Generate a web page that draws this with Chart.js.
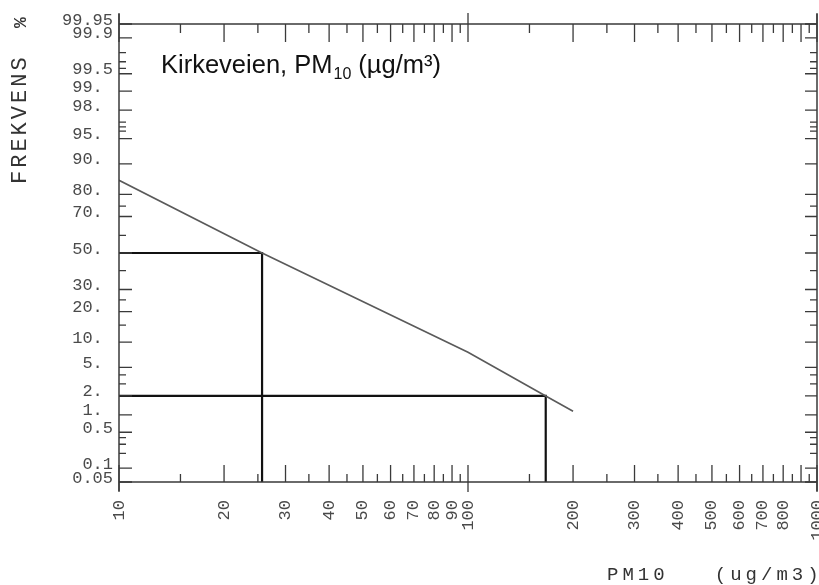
<!DOCTYPE html>
<html>
<head>
<meta charset="utf-8">
<script src="https://cdn.jsdelivr.net/npm/chart.js@4/dist/chart.umd.min.js"></script>
<style>
  html, body { margin: 0; padding: 0; background: #fff; }
  #wrap { width: 819px; height: 585px; position: relative; }
</style>
</head>
<body>
<div id="wrap"><canvas id="freqChart"></canvas></div>
<script>
// Cumulative frequency of PM10 concentrations, probability paper
const pm10Values = [10, 25.7, 100, 167, 200];
const freqPercent = [85.2, 50, 7.7, 2, 1.15];

// read-off levels (frequency % -> concentration)
const refLevels = [50, 2];
const refConc = [25.7, 167];

// y axis (probability scale)
const yMin = 0.05, yMax = 99.95;
const yTickValues = [99.95, 99.9, 99.5, 99, 98, 95, 90, 80, 70, 50, 30, 20, 10, 5, 2, 1, 0.5, 0.1, 0.05];
const yTickLabels = ['99.95', '99.9', '99.5', '99. ', '98. ', '95. ', '90. ', '80. ', '70. ', '50. ', '30. ', '20. ', '10. ', '5. ', '2. ', '1. ', '0.5', '0.1', '0.05'];
const yMinorTicks = [99.8, 99.7, 99.6, 97, 96.5, 96, 75, 60, 40, 25, 15, 4, 3, 0.4, 0.3, 0.2];

// x axis (log scale)
const xMin = 10, xMax = 1000;
const xTickLabels = [10, 20, 30, 40, 50, 60, 70, 80, 90, 100, 200, 300, 400, 500, 600, 700, 800, 1000];
const xMajorTicks = [20, 30, 40, 50, 60, 70, 80, 90, 200, 300, 400, 500, 600, 700, 800, 900];
const xMinorTicks = [15, 25, 35, 45, 55, 65, 75, 85, 95, 150, 250, 350, 450, 550, 650, 750, 850, 950];
const xCrossTicks = [10, 100, 1000];

// inverse of the standard normal CDF (Acklam)
function probit(p) {
    const a = [-3.969683028665376e+01, 2.209460984245205e+02, -2.759285104469687e+02, 1.383577518672690e+02, -3.066479806614716e+01, 2.506628277459239e+00];
    const b = [-5.447609879822406e+01, 1.615858368580409e+02, -1.556989798598866e+02, 6.680131188771972e+01, -1.328068155288572e+01];
    const c = [-7.784894002430293e-03, -3.223964580411365e-01, -2.400758277161838e+00, -2.549732539343734e+00, 4.374664141464968e+00, 2.938163982698783e+00];
    const d = [7.784695709041462e-03, 3.224671290700398e-01, 2.445134137142996e+00, 3.754408661907416e+00];
    const pl = 0.02425;
    let q, r;
    if (p < pl) {
        q = Math.sqrt(-2 * Math.log(p));
        return (((((c[0]*q+c[1])*q+c[2])*q+c[3])*q+c[4])*q+c[5]) / ((((d[0]*q+d[1])*q+d[2])*q+d[3])*q+1);
    }
    if (p <= 1 - pl) {
        q = p - 0.5; r = q * q;
        return (((((a[0]*r+a[1])*r+a[2])*r+a[3])*r+a[4])*r+a[5])*q / (((((b[0]*r+b[1])*r+b[2])*r+b[3])*r+b[4])*r+1);
    }
    q = Math.sqrt(-2 * Math.log(1 - p));
    return -(((((c[0]*q+c[1])*q+c[2])*q+c[3])*q+c[4])*q+c[5]) / ((((d[0]*q+d[1])*q+d[2])*q+d[3])*q+1);
}

function normCdf(z) {
    // Abramowitz-Stegun 26.2.17
    const t = 1 / (1 + 0.2316419 * Math.abs(z));
    const y = 0.3989423 * Math.exp(-z * z / 2) * t * (0.3193815 + t * (-0.3565638 + t * (1.781478 + t * (-1.821256 + t * 1.330274))));
    return z > 0 ? 1 - y : y;
}

// normal probability axis, values in percent
class ProbabilityScale extends Chart.Scale {
    determineDataLimits() {
        this.min = this.options.min;
        this.max = this.options.max;
    }
    buildTicks() {
        return yTickValues.map(v => ({ value: v }));
    }
    getLabelForValue(value) {
        return String(value);
    }
    getPixelForValue(value) {
        const z0 = probit(this.min / 100), z1 = probit(this.max / 100);
        return this.getPixelForDecimal((probit(value / 100) - z0) / (z1 - z0));
    }
    getValueForPixel(pixel) {
        const z0 = probit(this.min / 100), z1 = probit(this.max / 100);
        return normCdf(z0 + this.getDecimalForPixel(pixel) * (z1 - z0)) * 100;
    }
}
ProbabilityScale.id = 'probability';
ProbabilityScale.defaults = {};
Chart.register(ProbabilityScale);

const monoFont = '"Liberation Mono", "DejaVu Sans Mono", monospace';
const inkColor = '#3a3a3a';

// frame, inner ticks, tick labels and titles
const paperAxes = {
    id: 'paperAxes',
    afterDatasetsDraw(chart) {
        const { ctx, chartArea: area, scales: { x, y } } = chart;
        const { left, right, top, bottom } = area;
        ctx.save();
        ctx.strokeStyle = inkColor;
        ctx.lineWidth = 1.5;

        // frame
        ctx.beginPath();
        ctx.moveTo(left, top); ctx.lineTo(right, top);
        ctx.moveTo(left, bottom); ctx.lineTo(right, bottom);
        ctx.moveTo(left, top - 10); ctx.lineTo(left, bottom + 9);
        ctx.moveTo(right, top - 10); ctx.lineTo(right, bottom + 9);
        ctx.stroke();

        // x ticks (bottom pointing up, top pointing down)
        ctx.lineWidth = 1.3;
        ctx.beginPath();
        xMajorTicks.forEach(v => {
            const px = x.getPixelForValue(v);
            ctx.moveTo(px, bottom); ctx.lineTo(px, bottom - 17);
            ctx.moveTo(px, top); ctx.lineTo(px, top + 18);
        });
        xMinorTicks.forEach(v => {
            const px = x.getPixelForValue(v);
            ctx.moveTo(px, bottom); ctx.lineTo(px, bottom - 8);
            ctx.moveTo(px, top); ctx.lineTo(px, top + 9);
        });
        xCrossTicks.forEach(v => {
            const px = x.getPixelForValue(v);
            ctx.moveTo(px, bottom - 17); ctx.lineTo(px, bottom + 10);
            ctx.moveTo(px, top - 11); ctx.lineTo(px, top + 18);
        });
        // y ticks (left pointing right, right pointing left)
        yTickValues.forEach(v => {
            const py = y.getPixelForValue(v);
            ctx.moveTo(left, py); ctx.lineTo(left + 13, py);
            ctx.moveTo(right, py); ctx.lineTo(right - 12, py);
        });
        yMinorTicks.forEach(v => {
            const py = y.getPixelForValue(v);
            ctx.moveTo(left, py); ctx.lineTo(left + 7, py);
            ctx.moveTo(right, py); ctx.lineTo(right - 7, py);
        });
        ctx.stroke();

        // tick labels
        ctx.fillStyle = '#4a4a4a';
        ctx.font = '17px ' + monoFont;
        ctx.textAlign = 'right';
        ctx.textBaseline = 'middle';
        yTickValues.forEach((v, i) => {
            ctx.fillText(yTickLabels[i], left - 6, y.getPixelForValue(v) - 4);
        });
        xTickLabels.forEach(v => {
            ctx.save();
            ctx.translate(x.getPixelForValue(v), bottom + 18);
            ctx.rotate(-Math.PI / 2);
            ctx.fillText(String(v), 0, 0);
            ctx.restore();
        });

        // axis titles
        ctx.fillStyle = '#333';
        ctx.textAlign = 'left';
        ctx.textBaseline = 'alphabetic';
        ctx.font = '22px ' + monoFont;
        ctx.letterSpacing = '3px';
        ctx.save();
        ctx.translate(26, 184);
        ctx.rotate(-Math.PI / 2);
        ctx.fillText('FREKVENS', 0, 0);
        ctx.restore();
        ctx.letterSpacing = '0px';
        ctx.font = 'bold 18px ' + monoFont;
        ctx.save();
        ctx.translate(26, 28);
        ctx.rotate(-Math.PI / 2);
        ctx.fillText('%', 0, 0);
        ctx.restore();

        ctx.font = '19px ' + monoFont;
        ctx.letterSpacing = '4px';
        ctx.fillText('PM10   (ug/m3)', 607, 580);
        ctx.letterSpacing = '0px';

        // station title with subscript
        ctx.fillStyle = '#111';
        ctx.font = '25.5px "Liberation Sans", Arial, sans-serif';
        let tx = 161;
        const ty = 73;
        ctx.fillText('Kirkeveien, PM', tx, ty);
        tx += ctx.measureText('Kirkeveien, PM').width;
        ctx.font = '16px "Liberation Sans", Arial, sans-serif';
        ctx.fillText('10', tx + 1, ty + 6);
        tx += ctx.measureText('10').width + 1;
        ctx.font = '25.5px "Liberation Sans", Arial, sans-serif';
        ctx.fillText(' (\u00b5g/m\u00b3)', tx, ty);
        ctx.restore();
    }
};

const ctx = document.getElementById('freqChart').getContext('2d');
new Chart(ctx, {
    type: 'line',
    data: {
        datasets: [{
            label: 'PM10',
            data: pm10Values.map((v, i) => ({ x: v, y: freqPercent[i] })),
            borderColor: '#5a5a5a',
            borderWidth: 1.6,
            pointRadius: 0,
            tension: 0
        }].concat(refLevels.map((lvl, i) => ({
            label: lvl + ' %',
            data: [{ x: xMin, y: lvl }, { x: refConc[i], y: lvl }, { x: refConc[i], y: yMin }],
            borderColor: '#111',
            borderWidth: 2.2,
            pointRadius: 0,
            tension: 0
        })))
    },
    options: {
        responsive: true,
        maintainAspectRatio: false,
        animation: false,
        layout: {
            padding: { left: 119, right: 2, top: 24, bottom: 103 }
        },
        plugins: {
            legend: { display: false },
            tooltip: { enabled: false }
        },
        scales: {
            x: { type: 'logarithmic', min: xMin, max: xMax, display: false },
            y: { type: 'probability', min: yMin, max: yMax, display: false }
        }
    },
    plugins: [paperAxes]
});
</script>
</body>
</html>
